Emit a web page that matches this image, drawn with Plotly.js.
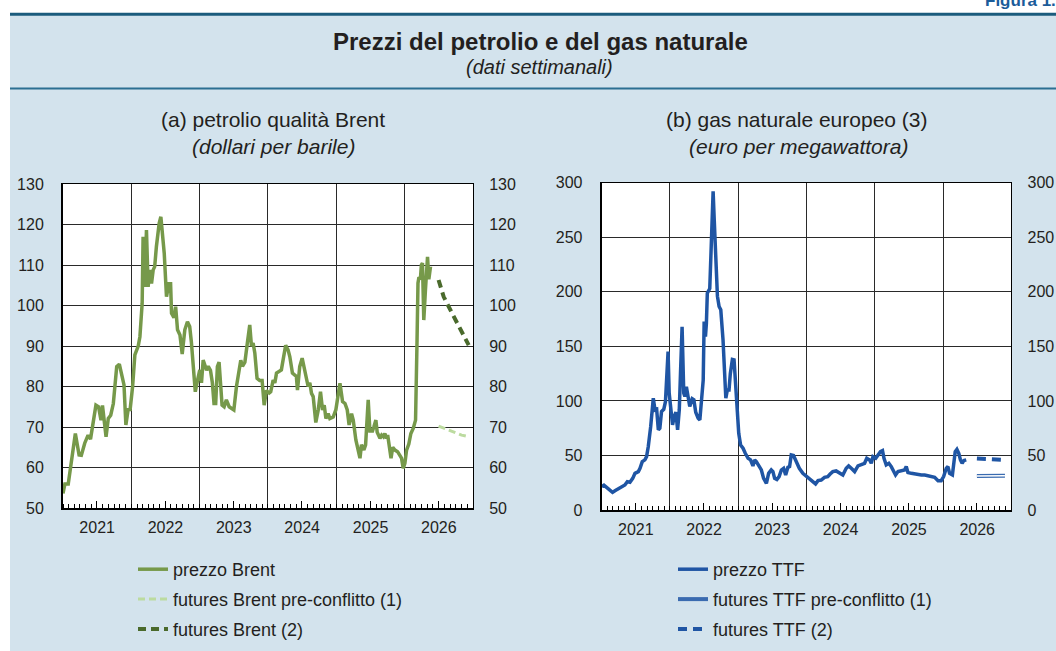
<!DOCTYPE html>
<html>
<head>
<meta charset="utf-8">
<script src="https://cdn.plot.ly/plotly-3.0.1.min.js"></script>
<style>
  html, body { margin: 0; padding: 0; background: #ffffff; }
  #chart { width: 1056px; height: 651px; }
</style>
</head>
<body>
<div id="chart"></div>
<script>
// ---------------- DATA ----------------
const brentDates = ["2021-01-01","2021-01-11","2021-01-29","2021-02-25","2021-03-08","2021-03-28","2021-04-09","2021-04-27","2021-05-15","2021-05-28","2021-06-11","2021-06-26","2021-07-10","2021-07-23","2021-07-31","2021-08-19","2021-08-31","2021-09-13","2021-09-27","2021-10-15","2021-10-29","2021-11-10","2021-11-23","2021-12-03","2021-12-16","2021-12-25",
"2022-01-08","2022-01-20","2022-02-07","2022-02-16","2022-02-28","2022-03-05","2022-03-14","2022-03-23","2022-04-01","2022-04-10","2022-04-19","2022-04-28","2022-05-06","2022-05-15","2022-05-30","2022-06-08","2022-06-20","2022-06-26","2022-07-08","2022-07-21","2022-07-30","2022-08-04","2022-08-17","2022-08-26","2022-09-05","2022-09-18","2022-09-30","2022-10-14","2022-10-28","2022-11-09","2022-11-18","2022-11-27","2022-12-09","2022-12-18",
"2023-01-02","2023-01-11","2023-01-20","2023-01-29","2023-02-07","2023-02-16","2023-02-28","2023-03-10","2023-03-19","2023-03-28","2023-04-06","2023-04-15","2023-04-24","2023-05-01","2023-05-12","2023-05-24","2023-06-08","2023-06-20","2023-07-03","2023-07-17","2023-07-30","2023-08-09","2023-08-18","2023-08-31","2023-09-13","2023-09-26","2023-10-05","2023-10-14","2023-10-23","2023-11-04","2023-11-18","2023-12-01","2023-12-12","2023-12-24",
"2024-01-08","2024-01-16","2024-01-29","2024-02-07","2024-02-16","2024-03-01","2024-03-13","2024-03-22","2024-04-05","2024-04-18","2024-04-27","2024-05-11","2024-05-23","2024-06-01","2024-06-07","2024-06-19","2024-07-02","2024-07-13","2024-07-25","2024-08-03","2024-08-12","2024-08-21","2024-08-30","2024-09-08","2024-09-13","2024-09-26","2024-10-08","2024-10-19","2024-10-28","2024-11-06","2024-11-18","2024-11-27","2024-12-15","2024-12-29",
"2025-01-11","2025-01-20","2025-02-03","2025-02-16","2025-02-28","2025-03-10","2025-03-23","2025-04-01","2025-04-15","2025-04-27","2025-05-07","2025-05-15","2025-05-28","2025-06-06","2025-06-11","2025-06-20","2025-06-29","2025-07-13","2025-07-20","2025-07-31","2025-08-07","2025-08-22","2025-08-31","2025-09-09","2025-09-17","2025-09-26","2025-10-02","2025-10-11","2025-10-20","2025-10-29","2025-11-10","2025-11-24","2025-12-07","2025-12-15","2025-12-24",
"2026-01-02","2026-01-11","2026-01-23","2026-02-03","2026-02-16","2026-02-28","2026-03-05","2026-03-08","2026-03-13","2026-03-18","2026-03-26","2026-03-31","2026-04-06","2026-04-13","2026-04-22","2026-05-03","2026-05-10","2026-05-19"];
const brentPrice = [53.6,55.9,55.9,66,68.4,63.1,63,66,68,67,71.3,75.4,75,71.7,75.3,67.6,72.1,72.9,75.8,84.9,85.5,83.3,80.4,70.5,74.6,74,
80,87.8,90,92.3,100.5,117,104.6,118.6,104.6,108.8,105.4,108.8,109.6,114.5,120.3,121.9,117,112.9,102.2,105.4,105.4,98.1,97,99.7,94,92.7,88,94,96,94.8,91,85.7,78.7,80.9,
84.1,80.9,86.5,85.3,84,85,84,81,75.8,75.8,84.9,86,81,75.4,75,76.7,75,74.6,74.2,80,83.3,86.5,85,86,90.7,95.2,90,90.7,88.3,82,81.5,81.5,75.4,79,
78.4,78.7,81.6,80.9,83.3,83.7,84.1,86.5,90.2,89,87.4,83.3,82.9,82.5,79.1,84.9,87,84.9,82,80,80.9,78.3,77.5,73,71.1,74.2,78.7,74.2,75.4,72.1,73.3,72.1,72.5,74.2,
77.9,80.8,76.3,75.8,74.2,70.5,73.3,71.7,66.8,64.3,62.3,65.6,64.3,65.6,69.7,76.7,69,69,70,71.7,68.7,67.2,68,67.6,68.4,67.2,68,64.7,62.3,65,64.3,63.9,63.1,62.3,59.8,
61,64.3,65.8,68.4,69.7,71.7,80,91.5,105.5,107,106.5,110,110.5,96.4,104,112,106.5,109.6];

const brentPreDates = ["2026-07-01","2026-08-01","2026-09-01","2026-10-01","2026-11-01","2026-12-09"];
const brentPre = [70.2,69.6,69.0,68.5,68.0,67.6];

const brentFutDates = ["2026-07-01","2026-07-28","2026-09-02","2026-10-08","2026-11-13","2026-12-09"];
const brentFut = [106.3,102.2,98.9,95.6,92.7,90.2];

const ttfDates = ["2021-01-01","2021-01-13","2021-01-27","2021-02-14","2021-02-28","2021-03-13","2021-03-30","2021-04-17","2021-05-05","2021-05-18","2021-06-01","2021-06-16","2021-06-28","2021-07-16","2021-07-25","2021-08-06","2021-08-20","2021-08-29","2021-09-07","2021-09-20","2021-10-04","2021-10-13","2021-10-22","2021-10-31","2021-11-08","2021-11-17","2021-11-29","2021-12-08","2021-12-22","2021-12-28",
"2022-01-06","2022-01-15","2022-01-24","2022-02-02","2022-02-11","2022-02-20","2022-02-27","2022-03-07","2022-03-16","2022-03-22","2022-03-30","2022-04-08","2022-04-17","2022-04-30","2022-05-09","2022-05-19","2022-06-01","2022-06-10","2022-06-19","2022-06-28","2022-07-03","2022-07-10","2022-07-15","2022-07-20","2022-08-02","2022-08-11","2022-08-20","2022-08-26","2022-09-03","2022-09-12","2022-09-21","2022-09-30","2022-10-12","2022-10-18","2022-10-27","2022-11-04","2022-11-13","2022-11-20","2022-12-01","2022-12-10","2022-12-18","2022-12-27",
"2023-01-04","2023-01-14","2023-01-27","2023-02-08","2023-02-23","2023-03-08","2023-03-21","2023-03-30","2023-04-08","2023-04-22","2023-05-05","2023-05-17","2023-06-01","2023-06-13","2023-06-27","2023-07-06","2023-07-15","2023-07-27","2023-08-08","2023-08-20","2023-09-01","2023-09-12","2023-09-24","2023-10-03","2023-10-12","2023-10-24","2023-11-03","2023-11-14","2023-11-24","2023-12-13",
"2024-01-01","2024-01-27","2024-02-19","2024-03-03","2024-03-20","2024-04-07","2024-04-24","2024-05-07","2024-05-21","2024-06-08","2024-06-26","2024-07-14","2024-08-01","2024-08-14","2024-08-28","2024-09-15","2024-10-03","2024-10-21","2024-11-07","2024-11-19","2024-12-04","2024-12-13","2024-12-22",
"2025-01-06","2025-01-18","2025-01-31","2025-02-11","2025-02-19","2025-03-03","2025-03-17","2025-03-30","2025-04-11","2025-04-22","2025-05-05","2025-05-22","2025-06-09","2025-06-18","2025-06-27","2025-07-15","2025-08-02","2025-08-20","2025-09-07","2025-09-25","2025-10-21","2025-11-17","2025-12-05","2025-12-22",
"2026-01-04","2026-01-18","2026-01-27","2026-02-05","2026-02-20","2026-02-27","2026-03-07","2026-03-16","2026-03-26","2026-04-04","2026-04-13","2026-04-22","2026-05-05"];
const ttfPrice = [21.4,22.8,20.8,18.3,16.2,17.7,19.3,20.5,22.9,26,25.4,29,33.6,35.2,38.2,44.3,45.9,48.9,58,76.4,102.4,91.7,92.3,73.4,75,90.2,92.3,99.3,145.2,107,
89.6,78,85.6,89.6,73.4,91.7,128,168,107,104,113,101,94.8,102,101,89.6,84.1,82.6,97.9,119,172.8,159,171,198.8,203,250.8,292,266,226,196,186.5,183.5,156,125.4,102.4,110,110,125,138,137.6,113,91.7,
70.3,59.6,56.6,52,47.4,45.9,40.4,45.9,44.3,40.4,36.7,29,24.5,33.6,36.7,35.2,29,28,30.6,36.7,38.2,32.1,39.1,39.8,50.5,50,46,41,38.2,33.6,
30.6,27.5,23.9,26.9,27.5,30,30.6,33,35.2,35.8,33.6,32,38.2,40.4,38.2,35.2,40.4,41.3,42.8,47.4,45.9,42.8,48.9,
47.4,50.5,53.5,54.4,47.4,41.3,42.8,39.8,35.2,32.1,35.2,36.1,36.7,39.8,34.4,33.6,33,33,32.1,32.1,31.2,30,26.9,26.9,
30.6,38.2,39.8,33.6,32.1,42.8,53.5,55.6,51.9,45.9,42.8,45.3,45.9];

const ttfPreDates = ["2026-07-01","2026-08-01","2026-09-01","2026-10-01","2026-11-01","2026-11-28"];
const ttfPre = [31.2,31.2,31.3,31.3,31.4,31.5];

const ttfFutDates = ["2026-07-01","2026-08-01","2026-09-01","2026-10-01","2026-11-01","2026-11-17"];
const ttfFut = [47.1,46.8,46.6,46.3,46.1,45.9];

const yearTickFormat = "%Y";
const brentRange = [50, 130];
const ttfRange = [0, 300];
const timeRange = ["2021-01-01", "2027-01-01"];

// ---------------- STYLE ----------------
const FONT = "Liberation Sans, Arial, Helvetica, sans-serif";
const TXT = "#231f20";
const GRID = "#2a2a2a";
const W = 1056, H = 651;
const px = v => v / W;
const py = v => 1 - v / H;

const domLeftX = [px(63), px(473)];
const domLeftY = [py(508), py(184)];
const domRightX = [px(601.7), px(1011.3)];
const domRightY = [py(510), py(182.7)];

function mainX(domain, anchor) {
  return {
    domain: domain, anchor: anchor, type: "date", range: timeRange,
    tick0: "2021-01-01", dtick: "M12", ticklabelmode: "period", tickformat: yearTickFormat,
    ticks: "inside", ticklen: 4, tickcolor: "#000", tickwidth: 1,
    showgrid: true, gridcolor: GRID, gridwidth: 1,
    showline: true, linecolor: "#000", linewidth: 2, zeroline: false,
    tickfont: { family: FONT, size: 16, color: TXT },
    ticklabelstandoff: 4,
    minor: { tick0: "2021-01-01", dtick: "M1", ticks: "inside", ticklen: 4, tickcolor: "#000", tickwidth: 1, showgrid: false },
    fixedrange: true
  };
}
function midX(overlay, anchor) {
  return {
    overlaying: overlay, anchor: anchor, type: "date", range: timeRange,
    tick0: "2021-07-01", dtick: "M12", ticks: "inside", ticklen: 7, tickcolor: "#000", tickwidth: 1,
    showticklabels: false, showgrid: false, showline: false, zeroline: false, fixedrange: true
  };
}
function topX(overlay, anchor) {
  return {
    overlaying: overlay, anchor: anchor, side: "top", type: "date", range: timeRange,
    ticks: "", showticklabels: false, showgrid: false, showline: true, linecolor: "#000", linewidth: 1,
    zeroline: false, fixedrange: true
  };
}
function mainY(domain, anchor, range, dtick) {
  return {
    domain: domain, anchor: anchor, range: range, dtick: dtick, tick0: range[0],
    showgrid: true, gridcolor: GRID, gridwidth: 1,
    showline: true, linecolor: "#000", linewidth: 2, zeroline: false,
    ticks: "", ticklabelstandoff: 14,
    tickfont: { family: FONT, size: 16, color: TXT }, fixedrange: true
  };
}
function rightY(overlay, anchor, range, dtick) {
  return {
    overlaying: overlay, anchor: anchor, side: "right", range: range, dtick: dtick, tick0: range[0],
    showgrid: false, showline: true, linecolor: "#000", linewidth: 1, zeroline: false,
    ticks: "", ticklabelstandoff: 12,
    tickfont: { family: FONT, size: 16, color: TXT }, fixedrange: true
  };
}

const GREEN = "#76994a", LIGHTGREEN = "#bcdba0", DARKGREEN = "#4a6a2c";
const BLUE = "#1f55a4";

const data = [
  { x: brentDates, y: brentPrice, xaxis: "x", yaxis: "y", type: "scatter", mode: "lines",
    name: "prezzo Brent", legend: "legend", legendgroup: "a1",
    line: { color: GREEN, width: 3.5 }, hoverinfo: "skip" },
  { x: brentPreDates, y: brentPre, xaxis: "x", yaxis: "y", type: "scatter", mode: "lines",
    name: "futures Brent pre-conflitto (1)", legend: "legend", legendgroup: "a2",
    line: { color: LIGHTGREEN, width: 3, dash: "7px,4px" }, hoverinfo: "skip" },
  { x: brentFutDates, y: brentFut, xaxis: "x", yaxis: "y", type: "scatter", mode: "lines",
    name: "futures Brent (2)", legend: "legend", legendgroup: "a3",
    line: { color: DARKGREEN, width: 4, dash: "8px,5px" }, hoverinfo: "skip" },

  { x: ttfDates, y: ttfPrice, xaxis: "x2", yaxis: "y2", type: "scatter", mode: "lines",
    name: "prezzo TTF", legend: "legend2", legendgroup: "b1",
    line: { color: BLUE, width: 3.5 }, hoverinfo: "skip" },
  { x: ttfPreDates, y: ttfPre, xaxis: "x2", yaxis: "y2", type: "scatter", mode: "lines",
    name: "futures TTF pre-conflitto (1)", legend: "legend2", legendgroup: "b2",
    line: { color: "#3a6bb0", width: 4 }, hoverinfo: "skip" },
  { x: ttfPreDates, y: ttfPre, xaxis: "x2", yaxis: "y2", type: "scatter", mode: "lines",
    showlegend: false, legendgroup: "b2", legend: "legend2",
    line: { color: "#ffffff", width: 1.5 }, hoverinfo: "skip" },
  { x: ttfFutDates, y: ttfFut, xaxis: "x2", yaxis: "y2", type: "scatter", mode: "lines",
    name: "futures TTF (2)", legend: "legend2", legendgroup: "b3",
    line: { color: BLUE, width: 4, dash: "9px,6px" }, hoverinfo: "skip" },

  // empty helper traces so overlay axes are drawn
  { x: [], y: [], xaxis: "x3", yaxis: "y", showlegend: false, hoverinfo: "skip" },
  { x: [], y: [], xaxis: "x5", yaxis: "y", showlegend: false, hoverinfo: "skip" },
  { x: [], y: [], xaxis: "x", yaxis: "y3", showlegend: false, hoverinfo: "skip" },
  { x: [], y: [], xaxis: "x4", yaxis: "y2", showlegend: false, hoverinfo: "skip" },
  { x: [], y: [], xaxis: "x6", yaxis: "y2", showlegend: false, hoverinfo: "skip" },
  { x: [], y: [], xaxis: "x2", yaxis: "y4", showlegend: false, hoverinfo: "skip" }
];

const legendStyle = {
  xanchor: "left", yanchor: "top", bgcolor: "rgba(0,0,0,0)", borderwidth: 0,
  font: { family: FONT, size: 18, color: TXT },
  traceorder: "grouped", tracegroupgap: 3.5, itemwidth: 30
};

const layout = {
  width: W, height: H, autosize: false,
  margin: { l: 0, r: 0, t: 0, b: 0, pad: 0 },
  paper_bgcolor: "#d3e3ed",
  plot_bgcolor: "#ffffff",
  font: { family: FONT, size: 16, color: TXT },
  showlegend: true,
  xaxis: mainX(domLeftX, "y"),
  xaxis3: midX("x", "y"),
  xaxis5: topX("x", "y"),
  yaxis: mainY(domLeftY, "x", brentRange, 10),
  yaxis3: rightY("y", "x", brentRange, 10),
  xaxis2: mainX(domRightX, "y2"),
  xaxis4: midX("x2", "y2"),
  xaxis6: topX("x2", "y2"),
  yaxis2: mainY(domRightY, "x2", ttfRange, 50),
  yaxis4: rightY("y2", "x2", ttfRange, 50),
  legend: Object.assign({ x: px(133), y: py(551) }, legendStyle),
  legend2: Object.assign({ x: px(673), y: py(551) }, legendStyle),
  shapes: [
    { type: "rect", xref: "paper", yref: "paper", x0: 0, x1: px(10), y0: 0, y1: 1,
      fillcolor: "#ffffff", line: { width: 0 }, layer: "below" },
    { type: "rect", xref: "paper", yref: "paper", x0: 0, x1: 1, y0: py(13), y1: 1,
      fillcolor: "#ffffff", line: { width: 0 }, layer: "below" },
    { type: "line", xref: "paper", yref: "paper", x0: px(10), x1: 1, y0: py(14.3), y1: py(14.3),
      line: { color: "#1b5c7d", width: 3 } },
    { type: "line", xref: "paper", yref: "paper", x0: px(10), x1: 1, y0: py(88.5), y1: py(88.5),
      line: { color: "#2b6f92", width: 2 } }
  ],
  annotations: [
    { text: "<b>Figura 1.</b>", xref: "paper", yref: "paper", x: px(1058), y: py(12), xanchor: "right", yanchor: "bottom",
      showarrow: false, font: { family: FONT, size: 17, color: "#1b5c9a" } },
    { text: "<b>Prezzi del petrolio e del gas naturale</b>", xref: "paper", yref: "paper", x: px(540), y: py(42),
      xanchor: "center", yanchor: "middle", showarrow: false, font: { family: FONT, size: 24, color: TXT } },
    { text: "<i>(dati settimanali)</i>", xref: "paper", yref: "paper", x: px(539), y: py(67),
      xanchor: "center", yanchor: "middle", showarrow: false, font: { family: FONT, size: 20, color: TXT } },
    { text: "(a) petrolio qualità Brent", xref: "paper", yref: "paper", x: px(273), y: py(120),
      xanchor: "center", yanchor: "middle", showarrow: false, font: { family: FONT, size: 21, color: TXT } },
    { text: "<i>(dollari per barile)</i>", xref: "paper", yref: "paper", x: px(273), y: py(146),
      xanchor: "center", yanchor: "middle", showarrow: false, font: { family: FONT, size: 21, color: TXT } },
    { text: "(b) gas naturale europeo (3)", xref: "paper", yref: "paper", x: px(797), y: py(120),
      xanchor: "center", yanchor: "middle", showarrow: false, font: { family: FONT, size: 21, color: TXT } },
    { text: "<i>(euro per megawattora)</i>", xref: "paper", yref: "paper", x: px(798), y: py(146),
      xanchor: "center", yanchor: "middle", showarrow: false, font: { family: FONT, size: 21, color: TXT } }
  ]
};

Plotly.newPlot("chart", data, layout, { staticPlot: true, displayModeBar: false });
</script>
</body>
</html>
